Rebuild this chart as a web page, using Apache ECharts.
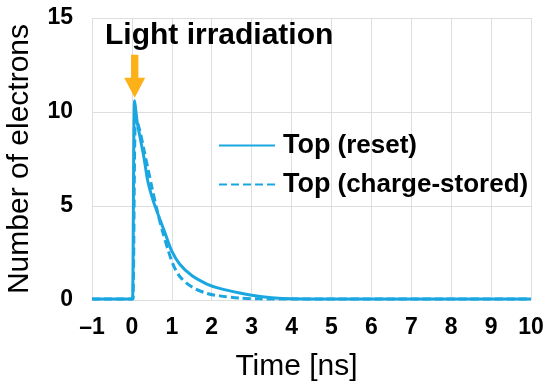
<!DOCTYPE html>
<html><head><meta charset="utf-8">
<script src="https://cdn.jsdelivr.net/npm/echarts@6/dist/echarts.min.js"></script>
<style>html,body{margin:0;padding:0;background:#fff}#c{width:550px;height:392px}</style>
</head><body><div id="c"></div>
<script>
var seriesNames = ['Top (reset)', 'Top (charge-stored)'];
var resetX = [-1, -0.5, 0, 0.02, 0.07, 0.13, 0.2, 0.3, 0.4, 0.53, 0.7, 0.83, 1.0, 1.2, 1.5, 1.88, 2.2, 2.7, 3.0, 3.5, 4.0, 5.0, 6.0, 7.0, 8.0, 9.0, 10.0];
var resetY = [0.05, 0.05, 0.05, 0.1, 10.6, 9.5, 8.7, 7.6, 6.3, 5.3, 4.3, 3.56, 2.6, 1.9, 1.3, 0.85, 0.62, 0.37, 0.25, 0.12, 0.06, 0.05, 0.05, 0.05, 0.05, 0.05, 0.05];
var storedX = [-1, -0.5, 0, 0.03, 0.1, 0.2, 0.3, 0.4, 0.5, 0.65, 0.78, 0.9, 1.03, 1.2, 1.5, 1.88, 2.2, 2.7, 3.2, 4.0, 5.0, 6.0, 7.0, 8.0, 9.0, 10.0];
var storedY = [0.05, 0.05, 0.05, 0.1, 9.7, 9.0, 8.0, 7.0, 6.0, 4.6, 3.56, 2.7, 1.9, 1.25, 0.7, 0.35, 0.22, 0.1, 0.06, 0.05, 0.05, 0.05, 0.05, 0.05, 0.05, 0.05];
var arrowAt = [0.07, 11.9];
var titleText = 'Light irradiation';

function pairs(xs, ys){ return xs.map(function(x,i){ return [x, ys[i]]; }); }
var blue = '#1AA7E1';
var FONT = 'Liberation Sans';
var chart = echarts.init(document.getElementById('c'));
chart.setOption({
  animation: false,
  title: { text: titleText, left: 100, top: 16, textStyle: { fontFamily: FONT, fontWeight: 'bold', fontSize: 30, color: '#000' } },
  grid: { left: 92, right: 19, top: 18, bottom: 92, outerBoundsMode: 'none', containLabel: false },
  legend: {
    orient: 'vertical', left: 213, top: 127, itemWidth: 56, itemHeight: 14, itemGap: 12,
    data: seriesNames,
    itemStyle: { color: 'rgba(0,0,0,0)', borderWidth: 0, opacity: 0 },
    formatter: function(n){ var m = n.match(/^(\S+)\s(.*)$/); return '{a|' + m[1] + '}{b|' + m[2] + '}'; },
    textStyle: { rich: {
      a: { fontFamily: FONT, fontWeight: 'bold', fontSize: 27, color: '#000', padding: [0,7,0,3] },
      b: { fontFamily: FONT, fontWeight: 'bold', fontSize: 26, color: '#000' }
    } }
  },
  xAxis: {
    type: 'value', min: -1, max: 10, interval: 1,
    name: 'Time [ns]', nameLocation: 'middle', nameGap: 52,
    nameTextStyle: { fontFamily: FONT, fontSize: 30, color: '#000', padding: [0, 30, 0, 0] },
    axisLine: { show: false }, axisTick: { show: false },
    axisLabel: { margin: 16, fontFamily: FONT, fontWeight: 'bold', fontSize: 23, color: '#000',
      formatter: function(v){ return v < 0 ? '\u2013' + (-v) : String(v); } },
    splitLine: { show: true, lineStyle: { color: '#dedede', width: 1 } }
  },
  yAxis: {
    type: 'value', min: 0, max: 15, interval: 5,
    name: 'Number of electrons', nameLocation: 'middle', nameGap: 57,
    nameTextStyle: { fontFamily: FONT, fontSize: 30, color: '#000' },
    axisLine: { show: false }, axisTick: { show: false },
    axisLabel: { margin: 19, fontFamily: FONT, fontWeight: 'bold', fontSize: 23, color: '#000' },
    splitLine: { show: true, lineStyle: { color: '#dedede', width: 1 } }
  },
  series: [
    { name: seriesNames[0], type: 'line', data: pairs(resetX, resetY), showSymbol: false, symbol: 'circle', smooth: 0.3,
      lineStyle: { color: blue, width: 3 }, itemStyle: { color: blue }, z: 3,
      markPoint: { symbol: 'path://M6.5,0L13.5,0L13.5,23L20,23L10,43L0,23L6.5,23Z', symbolSize: [21, 43],
        itemStyle: { color: '#FBB117', opacity: 1 }, label: { show: false }, silent: true,
        data: [{ coord: arrowAt }] } },
    { name: seriesNames[1], type: 'line', data: pairs(storedX, storedY), showSymbol: false, symbol: 'circle', smooth: 0.3,
      lineStyle: { color: blue, width: 3, type: [8, 4] }, itemStyle: { color: blue }, z: 2 }
  ]
});
</script></body></html>
